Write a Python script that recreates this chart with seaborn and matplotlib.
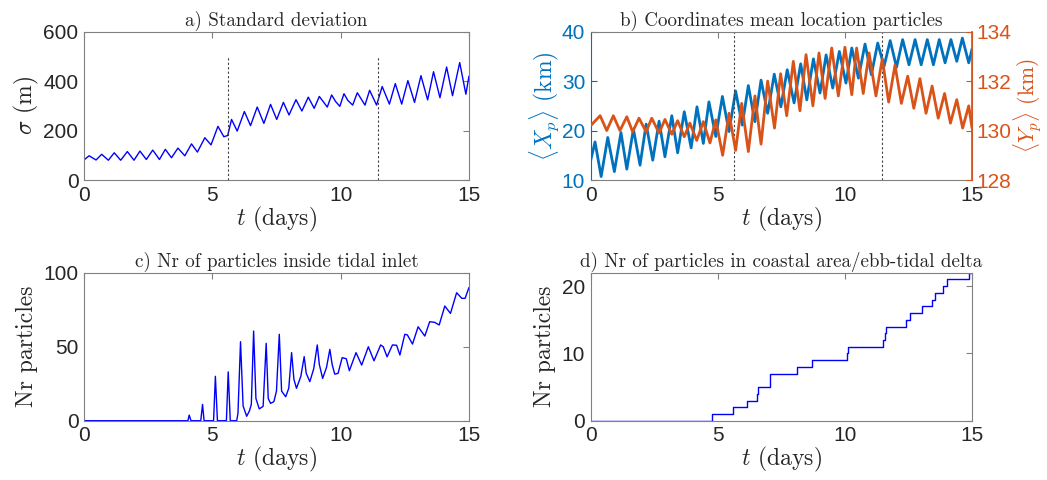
import matplotlib
matplotlib.use("Agg")
import matplotlib.pyplot as plt
import seaborn as sns

# a) standard deviation (peaks / troughs read off the figure)
a_t = [0, 0.2, 0.47, 0.69, 0.95, 1.18, 1.43, 1.69, 1.95, 2.18, 2.43, 2.68, 2.94, 3.17, 3.41,
       3.66, 3.93, 4.19, 4.42, 4.71, 4.95, 5.22, 5.45, 5.6, 5.75, 5.97, 6.25, 6.49, 6.75, 7.01,
       7.27, 7.51, 7.77, 7.99, 8.26, 8.49, 8.74, 8.97, 9.17, 9.3, 9.48, 9.65, 9.8, 9.97, 10.13,
       10.28, 10.47, 10.65, 10.95, 11.13, 11.4, 11.62, 11.9, 12.13, 12.38, 12.62, 12.88, 13.13,
       13.39, 13.62, 13.87, 14.13, 14.36, 14.64, 14.88, 15.0]
a_sigma = [81, 98, 81, 104, 80, 110, 80, 115, 80, 117, 83, 121, 83, 124, 90,
           129, 98, 146, 113, 171, 142, 217, 175, 180, 245, 198, 277, 220, 295, 229,
           306, 245, 314, 263, 325, 279, 335, 290, 338, 320, 295, 344, 318, 298, 349,
           322, 303, 353, 303, 363, 303, 378, 307, 390, 307, 402, 314, 422,
           324, 438, 333, 457, 341, 475, 347, 420]

# b) mean location, X (left axis) and Y (right axis)
bx_t = [0, 0.17, 0.41, 0.67, 0.93, 1.19, 1.42, 1.68, 1.94, 2.18, 2.44, 2.69, 2.92, 3.19, 3.42,
        3.68, 3.95, 4.18, 4.43, 4.65, 4.92, 5.18, 5.44, 5.7, 5.96, 6.2, 6.46, 6.7, 6.96, 7.22,
        7.48, 7.73, 8.0, 8.26, 8.5, 8.76, 9.02, 9.26, 9.52, 9.78, 10.04, 10.27, 10.53, 10.79,
        11.04, 11.29, 11.54, 11.78, 12.03, 12.27, 12.52, 12.76, 13.0, 13.24, 13.48, 13.71,
        13.94, 14.17, 14.4, 14.62, 14.87, 15.0]
bx_km = [14, 17.7, 10.7, 18.6, 11.7, 19.6, 12.2, 20.3, 13.0, 21.3, 14.0, 21.9, 14.7, 23.0, 15.5,
         23.8, 16.5, 24.8, 17.4, 25.8, 18.8, 26.9, 19.8, 28.0, 21.1, 29.1, 21.8, 30.2, 23.5, 31.4,
         24.8, 32.3, 25.6, 33.5, 26.2, 34.5, 27.6, 35.3, 28.6, 36.0, 29.6, 36.7, 30.6, 37.5,
         31.3, 37.7, 33.0, 38.2, 32.8, 38.4, 33.3, 38.4, 33.3, 38.4, 33.3, 38.4,
         33.7, 38.4, 34.0, 38.7, 33.7, 36.5]
by_t = [0, 0.37, 0.63, 0.89, 1.15, 1.42, 1.65, 1.9, 2.18, 2.4, 2.69, 2.92, 3.19, 3.42, 3.68,
        3.9, 4.17, 4.43, 4.69, 4.92, 5.19, 5.44, 5.7, 5.94, 6.2, 6.46, 6.7, 6.96, 7.23, 7.47,
        7.71, 7.97, 8.23, 8.47, 8.74, 8.98, 9.22, 9.48, 9.74, 10.0, 10.27, 10.46, 10.72, 10.95,
        11.22, 11.47, 11.72, 11.97, 12.22, 12.47, 12.71, 12.95, 13.19, 13.43, 13.67, 13.92,
        14.15, 14.4, 14.63, 14.87, 15.0]
by_km = [130.2, 130.6, 130.0, 130.6, 130.0, 130.56, 129.95, 130.5, 129.95, 130.5, 129.9, 130.45,
         129.85, 130.4, 129.75, 130.3, 129.6, 130.36, 129.5, 130.43, 129.0, 130.7, 129.2, 131.1,
         129.15, 131.4, 129.45, 132.0, 130.1, 132.3, 130.6, 132.8, 130.8, 133.07, 131.0, 133.14,
         131.3, 133.34, 131.4, 133.37, 131.45, 133.34, 131.5, 133.14, 131.4, 132.9, 131.15,
         132.65, 131.1, 132.2, 130.9, 132.1, 130.7, 131.8, 130.5, 131.5, 130.3, 131.25, 130.1,
         131.0, 130.1]

# c) particles inside tidal inlet
c_t = [0, 4.05, 4.1, 4.17, 4.55, 4.62, 4.68, 5.05, 5.12, 5.2, 5.55, 5.62, 5.7, 5.95, 6.0,
       6.1, 6.2, 6.34, 6.45, 6.52, 6.61, 6.7, 6.83, 6.98, 7.1, 7.18, 7.27, 7.4, 7.5, 7.61,
       7.7, 7.86, 7.98, 8.09, 8.18, 8.28, 8.45, 8.58, 8.66, 8.8, 8.95, 9.09, 9.17, 9.3, 9.45,
       9.58, 9.67, 9.77, 9.9, 10.06, 10.22, 10.34, 10.6, 10.82, 11.08, 11.3, 11.56, 11.66,
       11.81, 12.02, 12.18, 12.31, 12.5, 12.6, 12.8, 13.02, 13.28, 13.47, 13.66, 13.84,
       14.06, 14.28, 14.52, 14.6, 14.72, 14.85, 15.0]
c_n = [0, 0, 3.8, 0, 0, 11, 0, 0, 30, 0, 0, 33, 0, 0, 5,
       53.4, 10, 3, 6.8, 11, 60.6, 15, 8, 9.7, 52.3, 15, 11.7, 12.9, 20, 58.4,
       20, 16.2, 22, 46, 28, 21.9, 30, 43.3, 32, 26.4, 35, 51.2, 38, 28.6, 36,
       48.2, 38, 31.5, 32, 42.6, 41.9, 33.8, 46, 37.6, 50, 40.5, 51.2, 50,
       43.2, 51.2, 51, 44.4, 58.4, 58, 51.8, 63.5, 57.2, 66.9, 66.5, 64.7,
       77.5, 72.5, 86.5, 85, 82.7, 82.7, 90]

# d) particles in coastal area / ebb-tidal delta (step changes)
d_t = [0, 4.76, 5.59, 6.16, 6.53, 6.6, 7.05, 8.13, 8.72, 10.08, 10.12, 11.51, 11.56, 11.6,
       12.39, 12.56, 13.05, 13.44, 13.55, 13.85, 14.03, 14.89, 15.0]
d_n = [0, 1, 2, 3, 4, 5, 7, 8, 9, 10, 11, 12, 13, 14, 15, 16, 17, 18, 19, 20, 21, 22, 22]

dash_t = [5.62, 11.44]

sns.set_theme(style="white")
plt.rcParams["font.family"] = ["Liberation Sans", "DejaVu Sans"]
plt.rcParams["mathtext.fontset"] = "cm"

blue = "#0000FF"
mblue = "#0072BD"
morange = "#D95319"
axcol = "#808080"
txt = "#262626"
serif = {"family": "cmr10"}
lab_fs = 17
tick_fs = 15
title_fs = 13.7

fig = plt.figure(figsize=(10.47, 4.8), dpi=100)
ax_a = fig.add_axes([0.0802, 0.625, 0.3677, 0.309])
ax_b = fig.add_axes([0.5642, 0.625, 0.3642, 0.309])
ax_c = fig.add_axes([0.0802, 0.1235, 0.3677, 0.3083])
ax_d = fig.add_axes([0.5642, 0.1235, 0.3642, 0.3083])


def style(ax, right=True):
    for s in ax.spines.values():
        s.set_color(axcol)
        s.set_linewidth(0.8)
    ax.tick_params(direction="in", length=4, width=0.8, color=axcol, labelsize=tick_fs,
                   labelcolor=txt, top=True, right=right, pad=4)
    ax.set_xlim(0, 15)
    ax.set_xticks([0, 5, 10, 15])
    ax.set_xlabel("$t$ (days)", fontsize=lab_fs, color=txt, labelpad=0, **serif)


# a
sns.lineplot(x=a_t, y=a_sigma, ax=ax_a, color=blue, lw=1.0, estimator=None)
for t in dash_t:
    ax_a.plot([t, t], [0, 500], ls=(0, (2, 2)), color="#404040", lw=0.8)
ax_a.set_ylim(0, 600)
ax_a.set_yticks([0, 200, 400, 600])
style(ax_a)
ax_a.set_ylabel(r"$\sigma$ (m)", fontsize=lab_fs, color=txt, labelpad=2, **serif)
ax_a.set_title("a) Standard deviation", fontsize=title_fs, color=txt, pad=4, **serif)

# b
sns.lineplot(x=bx_t, y=bx_km, ax=ax_b, color=mblue, lw=2.0, estimator=None)
for t in dash_t:
    ax_b.axvline(t, ls=(0, (2, 2)), color="#404040", lw=0.8)
ax_b.set_ylim(10, 40)
ax_b.set_yticks([10, 20, 30, 40])
style(ax_b, right=False)
ax_b.tick_params(axis="y", colors=mblue, labelcolor=mblue)
ax_b.spines["left"].set_color(mblue)
ax_b.set_ylabel(r"$\langle X_p \rangle$ (km)", fontsize=lab_fs, color=mblue, labelpad=0, **serif)
ax_b.set_title("b) Coordinates mean location particles", fontsize=title_fs, color=txt, pad=4,
               **serif)
ax_b2 = ax_b.twinx()
sns.lineplot(x=by_t, y=by_km, ax=ax_b2, color=morange, lw=2.0, estimator=None)
ax_b2.set_ylim(128, 134)
ax_b2.set_yticks([128, 130, 132, 134])
for s in ax_b2.spines.values():
    s.set_visible(False)
ax_b2.spines["right"].set_visible(True)
ax_b2.spines["right"].set_color(morange)
ax_b2.tick_params(axis="y", direction="in", length=4, width=0.8, colors=morange,
                  labelcolor=morange, labelsize=tick_fs, pad=3)
ax_b2.set_ylabel(r"$\langle Y_p \rangle$ (km)", fontsize=15.5, color=morange, labelpad=0,
                 **serif)

# c
sns.lineplot(x=c_t, y=c_n, ax=ax_c, color=blue, lw=1.0, estimator=None)
ax_c.set_ylim(0, 100)
ax_c.set_yticks([0, 50, 100])
style(ax_c)
ax_c.set_ylabel("Nr particles", fontsize=lab_fs, color=txt, labelpad=4, **serif)
ax_c.set_title("c) Nr of particles inside tidal inlet", fontsize=title_fs, color=txt, pad=4,
               **serif)

# d
sns.lineplot(x=d_t, y=d_n, ax=ax_d, color=blue, lw=1.0, estimator=None, drawstyle="steps-post")
ax_d.set_ylim(0, 22)
ax_d.set_yticks([0, 10, 20])
style(ax_d)
ax_d.set_ylabel("Nr particles", fontsize=lab_fs, color=txt, labelpad=4, **serif)
ax_d.set_title("d) Nr of particles in coastal area/ebb-tidal delta", fontsize=title_fs,
               color=txt, pad=4, **serif)

plt.savefig("out.png", dpi=100)
